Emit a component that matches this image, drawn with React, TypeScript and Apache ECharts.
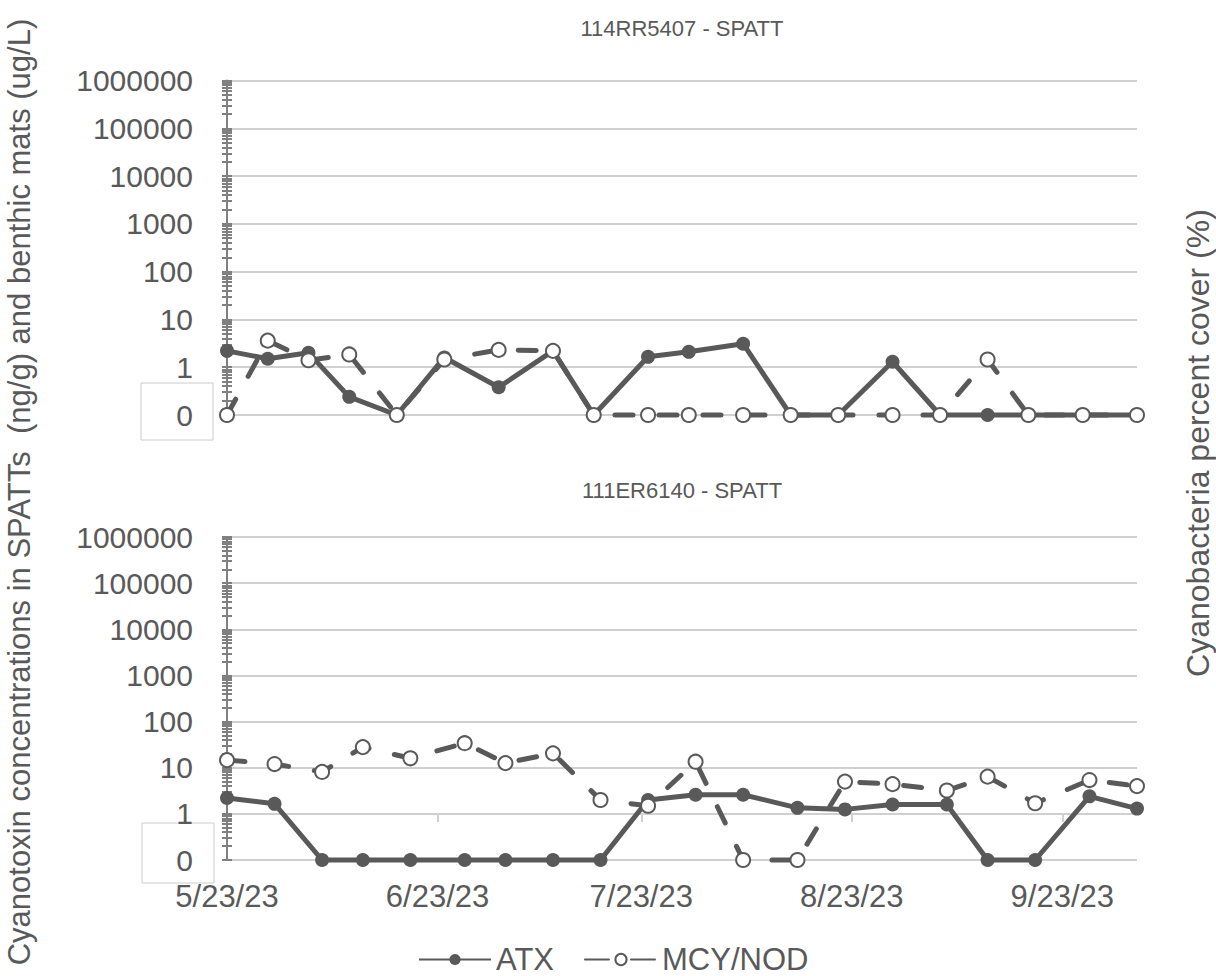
import React, { useEffect, useRef } from 'react';
import * as echarts from 'echarts';

// ---------- Text ----------
const topTitle = '114RR5407 - SPATT';
const bottomTitle = '111ER6140 - SPATT';
const leftAxisTitle = 'Cyanotoxin concentrations in SPATTs  (ng/g) and benthic mats (ug/L)';
const rightAxisTitle = 'Cyanobacteria percent cover (%)';
const seriesNames = ['ATX', 'MCY/NOD'];

// ---------- Data: site 114RR5407 ----------
const topDates = [
  '2023-05-23', '2023-05-29', '2023-06-04', '2023-06-10', '2023-06-17',
  '2023-06-24', '2023-07-02', '2023-07-10', '2023-07-16', '2023-07-24',
  '2023-07-30', '2023-08-07', '2023-08-14', '2023-08-21', '2023-08-29',
  '2023-09-05', '2023-09-12', '2023-09-18', '2023-09-26', '2023-10-04',
];
const topATX = [2.2, 1.5, 2.0, 0.24, 0, 1.6, 0.38, 2.2, 0, 1.65, 2.1, 3.1, 0, 0, 1.3, 0, 0, 0, 0, 0];
const topMCY = [0, 3.6, 1.4, 1.85, 0, 1.45, 2.3, 2.2, 0, 0, 0, 0, 0, 0, 0, 0, 1.45, 0, 0, 0];

// ---------- Data: site 111ER6140 ----------
const bottomDates = [
  '2023-05-23', '2023-05-30', '2023-06-06', '2023-06-12', '2023-06-19',
  '2023-06-27', '2023-07-03', '2023-07-10', '2023-07-17', '2023-07-24',
  '2023-07-31', '2023-08-07', '2023-08-15', '2023-08-22', '2023-08-29',
  '2023-09-06', '2023-09-12', '2023-09-19', '2023-09-27', '2023-10-04',
];
const bottomATX = [2.2, 1.65, 0, 0, 0, 0, 0, 0, 0, 2.0, 2.6, 2.6, 1.35, 1.25, 1.6, 1.6, 0, 0, 2.4, 1.3];
const bottomMCY = [14.6, 12, 8.1, 28, 16, 34, 12.6, 20.5, 2.0, 1.5, 13.5, 0, 0, 5.0, 4.4, 3.2, 6.4, 1.7, 5.4, 4.0];

// ---------- Axes ----------
const xAxisStart = '2023-05-23';
const xAxisEnd = '2023-10-04';
const xTickDates = ['2023-05-23', '2023-06-23', '2023-07-23', '2023-08-23', '2023-09-23'];
const yMin = 0.1; // the "0" row of the log axis
const yMax = 1000000;
const yDecades = [0.1, 1, 10, 100, 1000, 10000, 100000, 1000000];
const minorSteps = [1, 2, 3, 4, 5, 6, 7, 8, 9];

const GRAY = '#595959';
const AXIS_GRAY = '#808080';
const GRID_GRAY = '#d0d0d0';
const FONT = 'Liberation Sans, Arial, sans-serif';

function parseDate(s: string): number {
  const [y, m, d] = s.split('-').map(Number);
  return new Date(y, m - 1, d).getTime();
}

function fmtDate(v: number): string {
  const d = new Date(v);
  return `${d.getMonth() + 1}/${d.getDate()}/${String(d.getFullYear()).slice(2)}`;
}

function toPoints(dates: string[], vals: number[]) {
  return dates.map((d, i) => [parseDate(d), vals[i] === 0 ? yMin : vals[i]]);
}

const logTicks: number[] = [];
yDecades.forEach((dec, i) => {
  if (i === yDecades.length - 1) {
    logTicks.push(dec);
  } else {
    minorSteps.forEach((m) => logTicks.push(Number((m * dec).toPrecision(6))));
  }
});

export default function App() {
  const ref = useRef<HTMLDivElement>(null);

  useEffect(() => {
    if (!ref.current) return;
    const chart = echarts.init(ref.current, null, { renderer: 'svg' });

    const grids = [
      { left: 227, top: 80.5, width: 910, height: 334.5, containLabel: false },
      { left: 227, top: 537, width: 910, height: 323, containLabel: false },
    ];

    const xMin = parseDate(xAxisStart);
    const xMax = parseDate(xAxisEnd);
    const xTicks = xTickDates.map(parseDate);

    const hiddenX = (gridIndex: number, extra: any = {}) => ({
      type: 'value',
      gridIndex,
      position: 'bottom',
      min: xMin,
      max: xMax,
      axisLine: { show: false, onZero: false },
      axisTick: { show: false },
      axisLabel: { show: false },
      splitLine: { show: false },
      ...extra,
    });

    const xAxis: any[] = [
      hiddenX(0),
      hiddenX(1, {
        axisLabel: {
          show: true,
          customValues: xTicks,
          formatter: (v: number) => fmtDate(v),
          fontSize: 31,
          color: GRAY,
          fontFamily: FONT,
          margin: 21,
        },
      }),
      hiddenX(1, {
        offset: -46,
        axisTick: {
          show: true,
          customValues: xTicks.slice(1),
          length: 8,
          lineStyle: { color: GRID_GRAY, width: 2 },
        },
      }),
    ];

    const mainY = (gridIndex: number) => ({
      type: 'log',
      logBase: 10,
      gridIndex,
      position: 'left',
      min: yMin,
      max: yMax,
      axisLine: { show: true, onZero: false, lineStyle: { color: AXIS_GRAY, width: 2 } },
      axisTick: { show: false },
      axisLabel: {
        fontSize: 30,
        color: GRAY,
        fontFamily: FONT,
        margin: 34,
        formatter: (v: number) => (v < 0.5 ? '0' : String(Math.round(v))),
      },
      splitLine: { show: true, lineStyle: { color: GRID_GRAY, width: 2 } },
    });
    const auxY = (gridIndex: number) => ({
      type: 'log',
      logBase: 10,
      gridIndex,
      position: 'left',
      min: yMin,
      max: yMax,
      offset: -5,
      axisLine: { show: false, onZero: false },
      axisTick: {
        show: true,
        customValues: logTicks,
        length: 10,
        lineStyle: { color: AXIS_GRAY, width: 2 },
      },
      axisLabel: { show: false },
      splitLine: { show: false },
    });

    const yAxis: any[] = [mainY(0), auxY(0), mainY(1), auxY(1)];

    const atxStyle = {
      type: 'line',
      symbol: 'circle',
      symbolSize: 14,
      clip: false,
      lineStyle: { color: GRAY, width: 5 },
      itemStyle: { color: GRAY },
      emphasis: { disabled: true },
    };
    const mcyStyle = {
      type: 'line',
      symbol: 'circle',
      symbolSize: 14,
      clip: false,
      lineStyle: { color: GRAY, width: 5, type: [18, 26], cap: 'round' },
      itemStyle: { color: '#ffffff', borderColor: GRAY, borderWidth: 2 },
      emphasis: { disabled: true },
    };

    const series: any[] = [
      { ...atxStyle, name: seriesNames[0], xAxisIndex: 0, yAxisIndex: 0, data: toPoints(topDates, topATX) },
      { ...mcyStyle, name: seriesNames[1], xAxisIndex: 0, yAxisIndex: 0, data: toPoints(topDates, topMCY) },
      { ...atxStyle, name: seriesNames[0], xAxisIndex: 1, yAxisIndex: 2, data: toPoints(bottomDates, bottomATX) },
      { ...mcyStyle, name: seriesNames[1], xAxisIndex: 1, yAxisIndex: 2, data: toPoints(bottomDates, bottomMCY) },
    ];

    const titleStyle = { fill: GRAY, fontSize: 22, fontFamily: FONT, textAlign: 'center', textVerticalAlign: 'middle' };
    const axisTitleStyle = { fill: GRAY, fontFamily: FONT, textAlign: 'center', textVerticalAlign: 'middle' };
    const boxStyle = { fill: 'none', stroke: '#cccccc', lineWidth: 1 };

    chart.setOption({
      animation: false,
      textStyle: { fontFamily: FONT },
      grid: grids,
      xAxis,
      yAxis,
      series,
      legend: {
        data: [
          { name: seriesNames[0] },
          { name: seriesNames[1], lineStyle: { type: [24, 22], cap: 'round' } },
        ],
        left: 413,
        top: 939,
        itemWidth: 72,
        itemHeight: 14,
        itemGap: 30,
        textStyle: { fontSize: 31, color: GRAY, fontFamily: FONT },
      },
      graphic: [
        { type: 'text', x: 682, y: 28, style: { text: topTitle, ...titleStyle } },
        { type: 'text', x: 682, y: 490, style: { text: bottomTitle, ...titleStyle } },
        { type: 'text', x: 19, y: 492, rotation: Math.PI / 2, style: { text: leftAxisTitle, fontSize: 31, ...axisTitleStyle } },
        { type: 'text', x: 1198, y: 443, rotation: Math.PI / 2, style: { text: rightAxisTitle, fontSize: 32, ...axisTitleStyle } },
        { type: 'rect', shape: { x: 141, y: 383, width: 72, height: 57 }, style: boxStyle },
        { type: 'rect', shape: { x: 142, y: 823, width: 72, height: 60 }, style: boxStyle },
      ],
    });

    return () => chart.dispose();
  }, []);

  return (
    <div
      ref={ref}
      style={{ position: 'fixed', left: 0, top: 0, width: 1216, height: 976, background: '#ffffff' }}
    />
  );
}
